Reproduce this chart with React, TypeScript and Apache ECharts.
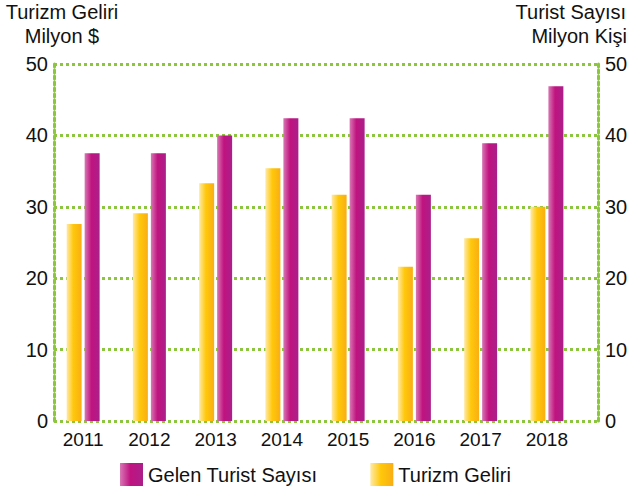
import React, { useEffect, useRef } from "react";
import * as echarts from "echarts";

const years = ["2011", "2012", "2013", "2014", "2015", "2016", "2017", "2018"];
const turizmGeliri = [27.6, 29.1, 33.3, 35.4, 31.7, 21.6, 25.6, 30.0];
const gelenTurist = [37.5, 37.5, 40.0, 42.4, 42.4, 31.7, 38.9, 46.9];
const yTicksMin = 0;
const yTicksMax = 50;
const yInterval = 10;

const FONT = "Liberation Sans, Arial, sans-serif";
const GREEN = "#8cc63f";

export default function App() {
  const ref = useRef<HTMLDivElement>(null);
  useEffect(() => {
    const chart = echarts.init(ref.current!, null, { renderer: "svg" });
    const yellow = new echarts.graphic.LinearGradient(0, 0, 1, 0, [
      { offset: 0, color: "#ffeaa8" },
      { offset: 0.45, color: "#ffc80a" },
      { offset: 1, color: "#f9ae14" },
    ]);
    const purple = new echarts.graphic.LinearGradient(0, 0, 1, 0, [
      { offset: 0, color: "#d877b4" },
      { offset: 0.45, color: "#c0137f" },
      { offset: 1, color: "#ab1f8a" },
    ]);
    const dotted = { color: GREEN, width: 3, type: [3, 3] as any };
    const labelStyle = { color: "#111", fontSize: 20, fontFamily: FONT };
    const titleStyle = { fontSize: 20, fontFamily: FONT, fill: "#111" };
    chart.setOption({
      animation: false,
      textStyle: { fontFamily: FONT },
      grid: [
        { left: 54, right: 37, top: 64, bottom: 70 },
        { left: 50, right: 55, top: 64, bottom: 70 },
      ],
      xAxis: [
        { type: "value", gridIndex: 0, show: false, min: 0, max: 1 },
        {
          type: "category",
          gridIndex: 1,
          data: years,
          axisLine: { show: false },
          axisTick: { show: false },
          axisLabel: { ...labelStyle, fontSize: 19, margin: 9 },
        },
      ],
      yAxis: [
        {
          type: "value",
          gridIndex: 0,
          position: "left",
          min: yTicksMin,
          max: yTicksMax,
          interval: yInterval,
          axisLine: { show: true, lineStyle: dotted },
          axisTick: { show: false },
          axisLabel: { ...labelStyle, margin: 6 },
          splitLine: { show: true, lineStyle: dotted },
        },
        {
          type: "value",
          gridIndex: 0,
          position: "right",
          min: yTicksMin,
          max: yTicksMax,
          interval: yInterval,
          axisLine: { show: true, lineStyle: dotted },
          axisTick: { show: false },
          axisLabel: { ...labelStyle, margin: 7 },
          splitLine: { show: false },
        },
        {
          type: "value",
          gridIndex: 1,
          min: yTicksMin,
          max: yTicksMax,
          show: false,
        },
      ],
      legend: {
        data: [
          { name: "Gelen Turist Sayısı", itemStyle: { color: purple } },
          { name: "Turizm Geliri", itemStyle: { color: yellow } },
        ],
        left: 115,
        top: 458,
        itemWidth: 23,
        itemHeight: 23,
        itemGap: 53,
        icon: "rect",
        textStyle: { ...labelStyle },
      },
      graphic: [
        { type: "text", x: 62, y: 2, style: { ...titleStyle, text: "Turizm Geliri", align: "center" } },
        { type: "text", x: 62, y: 26, style: { ...titleStyle, text: "Milyon $", align: "center" } },
        { type: "text", x: 626, y: 2, style: { ...titleStyle, text: "Turist Sayısı", align: "right" } },
        { type: "text", x: 627, y: 26, style: { ...titleStyle, text: "Milyon Kişi", align: "right" } },
      ],
      series: [
        {
          name: "Turizm Geliri",
          type: "bar",
          xAxisIndex: 1,
          yAxisIndex: 2,
          data: turizmGeliri,
          barWidth: 15,
          barGap: "20%",
          itemStyle: { color: yellow },
        },
        {
          name: "Gelen Turist Sayısı",
          type: "bar",
          xAxisIndex: 1,
          yAxisIndex: 2,
          data: gelenTurist,
          barWidth: 15,
          barGap: "20%",
          itemStyle: { color: purple },
        },
      ],
    });
    return () => chart.dispose();
  }, []);
  return <div ref={ref} style={{ width: 635, height: 491, position: "absolute", left: 0, top: 0 }} />;
}
